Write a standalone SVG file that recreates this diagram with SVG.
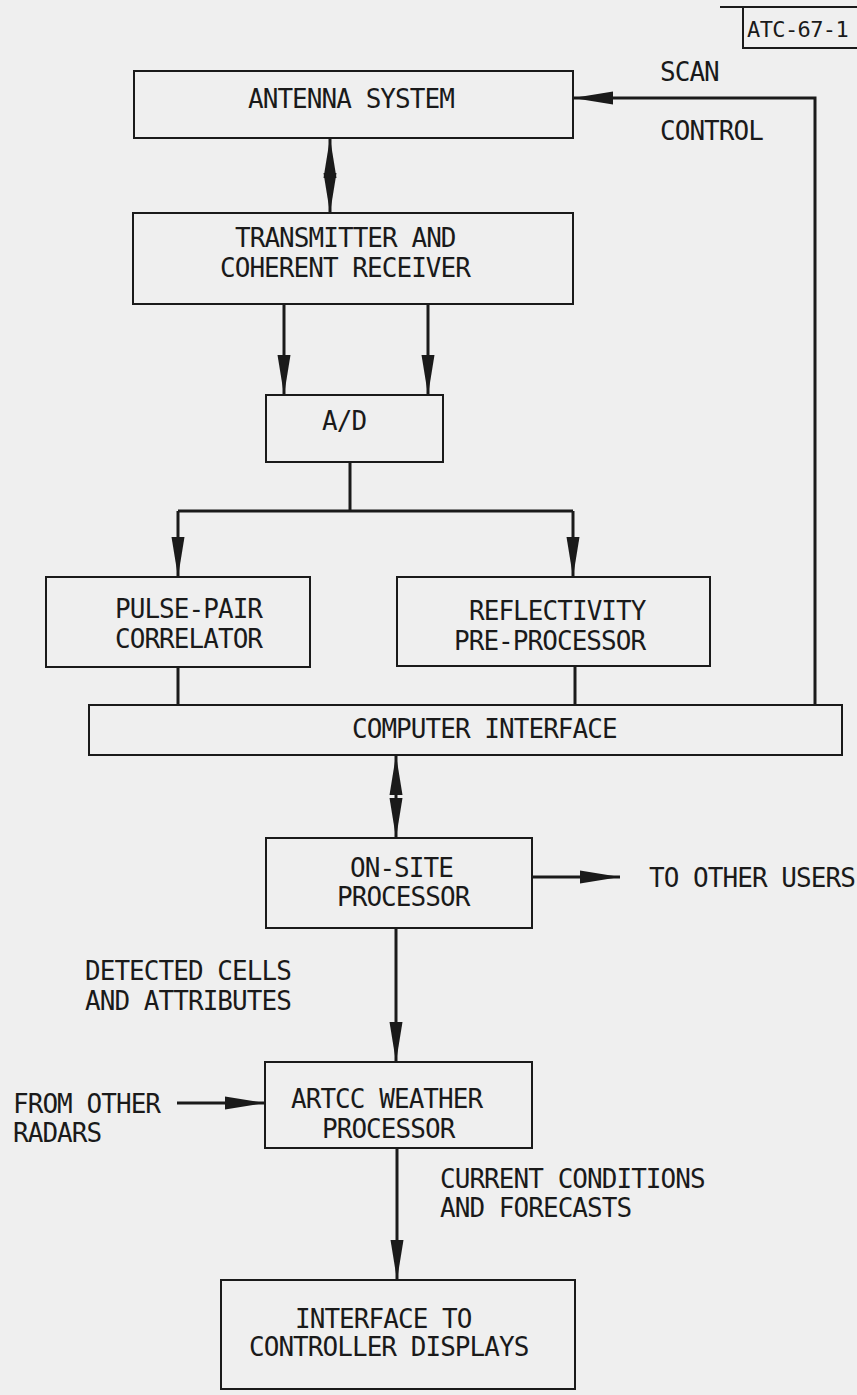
<svg xmlns="http://www.w3.org/2000/svg" width="857" height="1395" viewBox="0 0 857 1395">
<defs>
<style>
.box{fill:none;stroke:#1a1a1a;stroke-width:2}
.ln{fill:none;stroke:#1a1a1a;stroke-width:3}
.t{font-family:"DejaVu Sans Mono","Liberation Mono",monospace;font-size:26px;letter-spacing:-0.95px;fill:#1a1a1a}
.ts{font-size:22px;letter-spacing:-0.6px}
</style>
<marker id="ah" markerUnits="userSpaceOnUse" markerWidth="40" markerHeight="14" viewBox="0 0 40 14" refX="40" refY="7" orient="auto-start-reverse">
<path d="M0,0.5 L40,7 L0,13.5 Z" fill="#1a1a1a"/>
</marker>
</defs>
<rect x="0" y="0" width="857" height="1395" fill="#efefef"/>

<g id="label-atc">
<path class="box" d="M720,7 H857 M743,7 V48 H857"/>
<text class="t ts" x="747" y="37">ATC-67-1</text>
</g>

<g id="antenna">
<rect class="box" x="134" y="71" width="439" height="67"/>
<text class="t" x="248" y="108">ANTENNA SYSTEM</text>
</g>

<g id="scan-label">
<text class="t" x="660" y="81">SCAN</text>
<text class="t" x="660" y="140">CONTROL</text>
</g>

<g id="transmitter">
<rect class="box" x="133" y="213" width="440" height="91"/>
<text class="t" x="235" y="247">TRANSMITTER AND</text>
<text class="t" x="220" y="277">COHERENT RECEIVER</text>
</g>

<g id="ad">
<rect class="box" x="266" y="395" width="177" height="67"/>
<text class="t" x="322" y="430">A/D</text>
</g>

<g id="pulse-pair">
<rect class="box" x="46" y="577" width="264" height="90"/>
<text class="t" x="115" y="618">PULSE-PAIR</text>
<text class="t" x="115" y="648">CORRELATOR</text>
</g>

<g id="reflectivity">
<rect class="box" x="397" y="577" width="313" height="89"/>
<text class="t" x="469" y="620">REFLECTIVITY</text>
<text class="t" x="454" y="650">PRE-PROCESSOR</text>
</g>

<g id="computer-interface">
<rect class="box" x="89" y="705" width="753" height="50"/>
<text class="t" x="352" y="738">COMPUTER INTERFACE</text>
</g>

<g id="on-site">
<rect class="box" x="266" y="838" width="266" height="90"/>
<text class="t" x="350" y="877">ON-SITE</text>
<text class="t" x="337" y="906">PROCESSOR</text>
</g>

<g id="other-users">
<text class="t" x="649" y="887">TO OTHER USERS</text>
</g>

<g id="detected-label">
<text class="t" x="85" y="980">DETECTED CELLS</text>
<text class="t" x="85" y="1010">AND ATTRIBUTES</text>
</g>

<g id="artcc">
<rect class="box" x="265" y="1062" width="267" height="86"/>
<text class="t" x="291" y="1108">ARTCC WEATHER</text>
<text class="t" x="322" y="1138">PROCESSOR</text>
</g>

<g id="other-radars">
<text class="t" x="13" y="1113">FROM OTHER</text>
<text class="t" x="13" y="1142">RADARS</text>
</g>

<g id="current-label">
<text class="t" x="440" y="1188">CURRENT CONDITIONS</text>
<text class="t" x="440" y="1217">AND FORECASTS</text>
</g>

<g id="controller-interface">
<rect class="box" x="221" y="1280" width="354" height="109"/>
<text class="t" x="295" y="1328">INTERFACE TO</text>
<text class="t" x="249" y="1356">CONTROLLER DISPLAYS</text>
</g>

<g id="connectors">
<path class="ln" d="M330,138 V213" marker-start="url(#ah)" marker-end="url(#ah)"/>
<path class="ln" d="M815,706 V98 H573" marker-end="url(#ah)"/>
<path class="ln" d="M284,304 V395" marker-end="url(#ah)"/>
<path class="ln" d="M428,304 V395" marker-end="url(#ah)"/>
<path class="ln" d="M350,462 V511"/>
<path class="ln" d="M178,511 H573"/>
<path class="ln" d="M178,511 V577" marker-end="url(#ah)"/>
<path class="ln" d="M573,511 V577" marker-end="url(#ah)"/>
<path class="ln" d="M178,667 V705"/>
<path class="ln" d="M575,666 V705"/>
<path class="ln" d="M396,755 V838" marker-start="url(#ah)" marker-end="url(#ah)"/>
<path class="ln" d="M532,877 H620" marker-end="url(#ah)"/>
<path class="ln" d="M396,928 V1062" marker-end="url(#ah)"/>
<path class="ln" d="M177,1103 H265" marker-end="url(#ah)"/>
<path class="ln" d="M397,1148 V1280" marker-end="url(#ah)"/>
</g>
</svg>
